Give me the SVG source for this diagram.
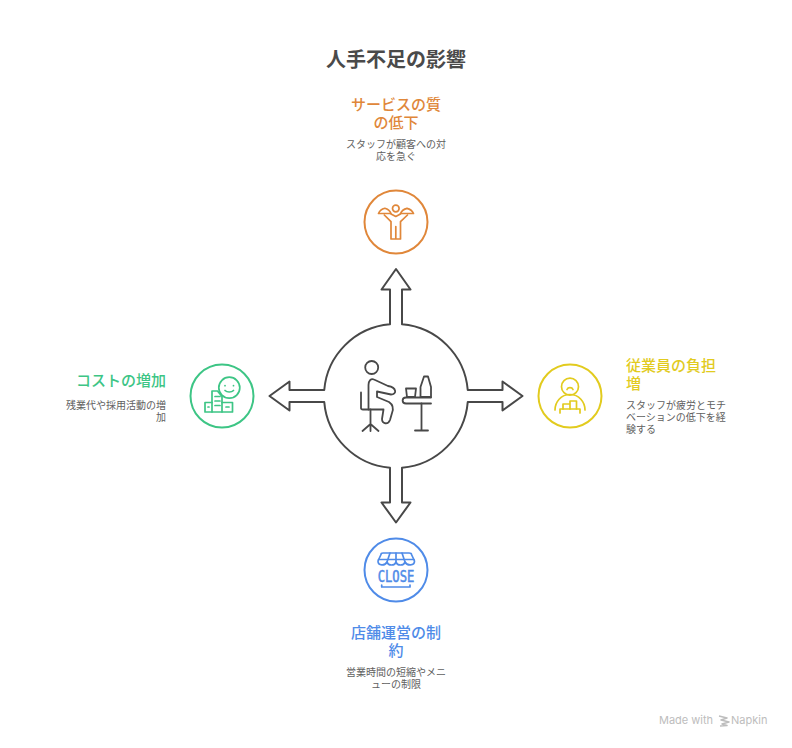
<svg xmlns="http://www.w3.org/2000/svg" width="792" height="748" viewBox="0 0 792 748">
<style>
text{font-family:"Noto Sans CJK JP","Noto Sans",sans-serif}
.title{font-size:20px;font-weight:700;fill:#4a4a4a;text-anchor:middle}
.h{font-size:15px;font-weight:500}
.d{font-size:10px;fill:#606060}
.m{text-anchor:middle}.e{text-anchor:end}
.ln{fill:none;stroke-width:2;stroke-linecap:round;stroke-linejoin:round}
.ic{fill:none;stroke-width:1.7;stroke-linecap:round;stroke-linejoin:round}
.o{stroke:#E0873A}.y{stroke:#E2CB1E}.g{stroke:#3DC585}.b{stroke:#4F8BE8}
.k{stroke:#484848}
.wm{font-family:"Inter","Noto Sans",sans-serif;font-size:11px;fill:#bdbdbd}
</style>
<rect width="792" height="748" fill="#fff"/>
<text class="title" x="396" y="67">人手不足の影響</text>

<g id="connectors">
<path class="ln k" d="M390 324.25V289.5H381.5L396 269L410.5 289.5H402V324.25A72 72 0 0 1 467.75 390H502.5V381.5L522.5 396L502.5 410.5V402H467.75A72 72 0 0 1 402 467.75V502.5H410.5L396 522.5L381.5 502.5H390V467.75A72 72 0 0 1 324.25 402H289.5V410.5L269.5 396L289.5 381.5V390H324.25A72 72 0 0 1 390 324.25Z"/>
</g>

<g id="center">
<g class="ic k" style="stroke-width:1.8">
<circle cx="371.7" cy="367.5" r="6.5"/>
<path d="M368.5 385C368.5 381 371 378 374 379.500L388 386C397 387.500 397 394.500 391 394.500L377 391.500V397L389 402C393.500 405 393.500 409 392 413L390 420C388 425 382 424 382 419L383.500 409.500H368.500Z"/>
<path d="M361 392.500V408C361 409 362 409.500 363 409.500H368.500"/>
<path d="M370.500 409.500V424M370.500 424L362.500 431M370.500 424L378.500 431M370.500 424V431"/>
<path d="M431 397.500H406C401.500 397.500 401.500 403.500 406 403.500H431"/>
<path d="M421.500 403.500V430.500M415 430.500H428"/>
<path d="M406 388.500H416L415 397H407Z"/>
<path d="M420.500 397V387L424 376.500H428L431 387V397Z"/>
</g>
</g>

<g id="node-top">
<circle class="ln o" cx="396" cy="222" r="31.5"/>
<g class="ic o">
<circle cx="395.800" cy="208.500" r="3.300"/>
<path d="M378.500 213.500H391C390 211 387.500 209 384.800 208.300C382 209 379.500 211 378.500 213.500Z"/>
<path d="M400.500 213.500H413.500C412.500 211 410 209 407 208.300C404 209 401.500 211 400.500 213.500Z"/>
<path d="M384.300 215L391 221.700V239H395.800V226.500M395.800 239H400.500V221.700L407.500 215"/>
<path d="M391 214L395.800 216.500L400.500 214"/>
</g>
<text class="h m" fill="#E0873A"><tspan x="396" y="110">サービスの質</tspan><tspan x="396" y="128">の低下</tspan></text>
<text class="d m"><tspan x="396" y="148">スタッフが顧客への対</tspan><tspan x="396" y="160">応を急ぐ</tspan></text>
</g>

<g id="node-right">
<circle class="ln y" cx="570" cy="396" r="31.500"/>
<g class="ic y">
<circle cx="570" cy="386.700" r="8.500"/>
<path d="M567 389.500C568 387 572 387 573 389.500"/>
<path d="M555 410C555 402 561 394.500 570 394.500C579 394.500 585 402 585 410"/>
<path d="M560 409H580M560 409V413M580 409V413"/>
<path d="M563 409V404H570V409M570 404V401H576.500V409"/>
</g>
<text class="h" fill="#E2CB1E"><tspan x="626" y="371">従業員の負担</tspan><tspan x="626" y="389">増</tspan></text>
<text class="d"><tspan x="626" y="409">スタッフが疲労とモチ</tspan><tspan x="626" y="421">ベーションの低下を経</tspan><tspan x="626" y="433">験する</tspan></text>
</g>

<g id="node-bottom">
<circle class="ln b" cx="396" cy="570" r="31.500"/>
<g class="ic b">
<path d="M381 554.500C381 553.500 382 553 383 553H409C410.500 553 411.500 553.500 411.500 554.500L414.500 561C414.500 566 407 566 405 562C404 566 397 566 396 562C395 566 388 566 387 562C385 566 378 566 378 561Z"/>
<path d="M378.500 559.500H414M387 562L390 553M396 562V553M405 562L402 553"/>
<path d="M381.700 585V587H410V585"/>
</g>
<text x="396" y="581.700" text-anchor="middle" textLength="36.600" lengthAdjust="spacingAndGlyphs" style="font-family:'DejaVu Sans Mono',monospace;font-size:15px;stroke:#4F8BE8;stroke-width:0.5" fill="#4F8BE8">CLOSE</text>
<text class="h m" fill="#4F8BE8"><tspan x="396" y="638">店舗運営の制</tspan><tspan x="396" y="656">約</tspan></text>
<text class="d m"><tspan x="396" y="676">営業時間の短縮やメニ</tspan><tspan x="396" y="688">ューの制限</tspan></text>
</g>

<g id="node-left">
<circle class="ln g" cx="222" cy="396" r="31.500"/>
<g class="ic g">
<circle cx="229.300" cy="387.700" r="10.500"/>
<path d="M225 385.500V385.700M233.500 385.500V385.700"/>
<path d="M225 390.500C227 392.500 231.500 392.500 233.500 390.500"/>
<path d="M205 402.500H212V391H217.500L222 396.500V402.500H232.500V412H205Z"/>
<path d="M212 402.500V412M222 402.500V412M215 396.500H220M215 401H220M215 405.500H220M208 407H209M226 407H229"/>
</g>
<text class="h e" x="166" y="386" fill="#3DC585">コストの増加</text>
<text class="d e"><tspan x="166" y="409">残業代や採用活動の増</tspan><tspan x="166" y="421">加</tspan></text>
</g>

<g id="watermark">
<text class="wm" x="659" y="724">Made with</text>
<path d="M719 716L727 718L721 720L729 722L722 724L727 725.500L720 726" fill="none" stroke="#bdbdbd" stroke-width="1.500" stroke-linejoin="round"/>
<text class="wm" x="731" y="724">Napkin</text>
</g>
</svg>
